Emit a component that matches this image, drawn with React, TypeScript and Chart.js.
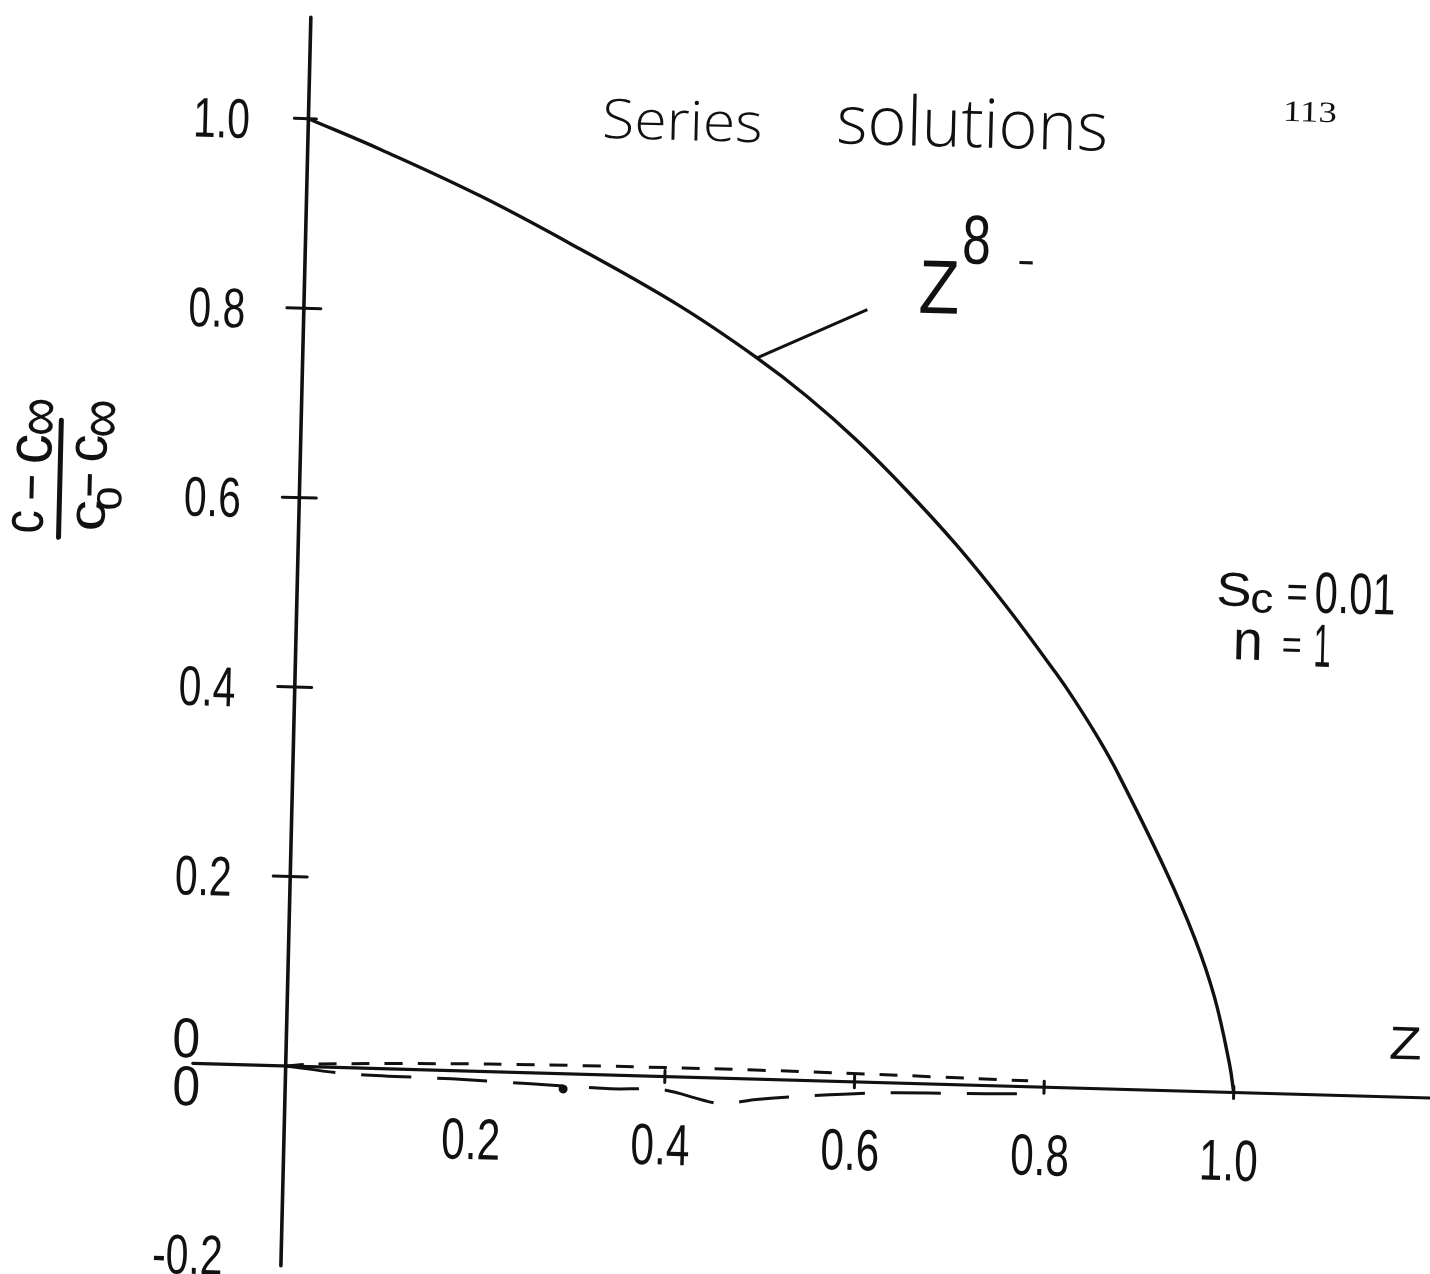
import { useEffect, useRef } from "react";
import { Chart, registerables } from "chart.js";

Chart.register(...registerables);

// Series solution: concentration ratio along z for the z^8 term
const zProfile = [0, 0.0785, 0.1845, 0.2907, 0.3969, 0.4788, 0.5324, 0.5861, 0.6396, 0.6934, 0.7473, 0.8014, 0.821, 0.8481, 0.87, 0.9217, 0.9548, 0.9773, 0.9948, 1.0];
const cProfile = [1.0, 0.969, 0.923, 0.87, 0.813, 0.761, 0.722, 0.677, 0.626, 0.57, 0.507, 0.438, 0.411, 0.37, 0.333, 0.234, 0.162, 0.1, 0.03, 0.0];

// short-dashed curve just above the z axis
const zUpper = [0, 0.031, 0.214, 0.419, 0.584, 0.783];
const cUpper = [0, 0.003, 0.008, 0.0096, 0.009, 0.0062];

// long-dashed curve just below the z axis
const zLower = [0, 0.067, 0.175, 0.259, 0.343, 0.398, 0.459, 0.494, 0.537, 0.63, 0.738, 0.776];
const cLower = [0, -0.0065, -0.0087, -0.0116, -0.0145, -0.014, -0.027, -0.0218, -0.0174, -0.0107, -0.0087, -0.0077];

// single dot on the lower curve
const zDot = [0.293];
const cDot = [-0.016];

// leader from the curve to its "z^8" tag
const zLeader = [0.479, 0.594];
const cLeader = [0.761, 0.815];

const yTickValues = [1.0, 0.8, 0.6, 0.4, 0.2, -0.2];
const yTickLabels = ["1.0", "0.8", "0.6", "0.4", "0.2", "-0.2"];
const yTickMarks = [1.0, 0.8, 0.6, 0.4, 0.2];
const xTickValues = [0.2, 0.4, 0.6, 0.8, 1.0];
const xTickLabels = ["0.2", "0.4", "0.6", "0.8", "1.0"];
const xTickMarks = [0.4, 0.6, 0.8, 1.0];

const X_MIN = -0.2966;
const X_MAX = 1.2023;
const Y_MIN = -0.2149;
const Y_MAX = 1.1206;
const Z_AXIS_FROM = -0.098;
const Z_AXIS_TO = 1.21;
const C_AXIS_FROM = -0.211;
const C_AXIS_TO = 1.107;

// the hand-ruled axes are not quite square to the sheet
const SHEAR = { a: 1, b: 0.028, c: -0.024, d: 1 };

const INK = "#111";
const LETTER = "Liberation Sans";
const TITLE = `"Open Sans", "DejaVu Sans"`;

type InkOpts = { w?: number; h?: number; sx?: number; sy?: number; align?: "center" | "right"; rot?: number };

// draws text so that its ink box is centred (or right-aligned) on (cx, cy)
function drawInk(ctx: CanvasRenderingContext2D, s: string, cx: number, cy: number, font: string, o: InkOpts = {}) {
  ctx.save();
  ctx.font = font;
  ctx.textAlign = "left";
  ctx.textBaseline = "alphabetic";
  ctx.fillStyle = INK;
  const m = ctx.measureText(s);
  const inkW = m.actualBoundingBoxLeft + m.actualBoundingBoxRight;
  const inkH = m.actualBoundingBoxAscent + m.actualBoundingBoxDescent;
  const sx = o.w ? o.w / inkW : o.sx ?? 1;
  const sy = o.h ? o.h / inkH : o.sy ?? 1;
  ctx.translate(cx, cy);
  if (o.rot) ctx.rotate(o.rot);
  ctx.scale(sx, sy);
  const midX = (m.actualBoundingBoxRight - m.actualBoundingBoxLeft) / 2;
  const midY = (m.actualBoundingBoxDescent - m.actualBoundingBoxAscent) / 2;
  const dx = o.align === "right" ? -m.actualBoundingBoxRight : -midX;
  ctx.fillText(s, dx, -midY);
  ctx.restore();
}

function line(ctx: CanvasRenderingContext2D, x1: number, y1: number, x2: number, y2: number, w: number) {
  ctx.save();
  ctx.strokeStyle = INK;
  ctx.lineWidth = w;
  ctx.lineCap = "round";
  ctx.beginPath();
  ctx.moveTo(x1, y1);
  ctx.lineTo(x2, y2);
  ctx.stroke();
  ctx.restore();
}

const sketchPlugin = {
  id: "sketch",
  beforeDraw(chart: any) {
    const { ctx, width, height } = chart;
    ctx.save();
    ctx.fillStyle = "#fff";
    ctx.fillRect(0, 0, width, height);
    const xs = chart.scales.x;
    const ys = chart.scales.y;
    const ox = xs.getPixelForValue(0);
    const oy = ys.getPixelForValue(0);
    const { a, b, c, d } = SHEAR;
    ctx.transform(a, b, c, d, ox - a * ox - c * oy, oy - b * ox - d * oy);
  },
  beforeDatasetsDraw(chart: any) {
    const ctx = chart.ctx as CanvasRenderingContext2D;
    const xs = chart.scales.x;
    const ys = chart.scales.y;
    const ox = xs.getPixelForValue(0);
    const oy = ys.getPixelForValue(0);
    // axes
    line(ctx, xs.getPixelForValue(Z_AXIS_FROM), oy, xs.getPixelForValue(Z_AXIS_TO), oy, 3.2);
    line(ctx, ox, ys.getPixelForValue(C_AXIS_FROM), ox, ys.getPixelForValue(C_AXIS_TO), 3.6);
    // tick marks
    yTickMarks.forEach((v) => {
      const y = ys.getPixelForValue(v);
      if (v === 1.0) line(ctx, ox - 14, y, ox + 8, y, 3);
      else line(ctx, ox - 17, y, ox + 17, y, 3);
    });
    xTickMarks.forEach((v) => {
      const x = xs.getPixelForValue(v);
      line(ctx, x, oy - 6, x, oy + 6, 3);
    });
  },
  afterDatasetsDraw(chart: any) {
    const ctx = chart.ctx as CanvasRenderingContext2D;
    const xs = chart.scales.x;
    const ys = chart.scales.y;
    const ox = xs.getPixelForValue(0);
    const oy = ys.getPixelForValue(0);
    const tickFont = `56px "${LETTER}"`;

    yTickValues.forEach((v, i) => {
      drawInk(ctx, yTickLabels[i], ox - 60, ys.getPixelForValue(v) + 2, tickFont, { sx: 0.73, align: "right" });
    });
    xTickValues.forEach((v, i) => {
      drawInk(ctx, xTickLabels[i], xs.getPixelForValue(v) - 3, oy + 68, `58px "${LETTER}"`, { sx: 0.73 });
    });
    // zeros either side of the z axis
    drawInk(ctx, "0", ox - 100, oy - 25, tickFont, { w: 24, h: 40 });
    drawInk(ctx, "0", ox - 99, oy + 23, tickFont, { w: 24, h: 40 });
    // z axis name
    drawInk(ctx, "Z", 1404, oy - 54, `48px "${LETTER}"`, { w: 30, h: 32 });

    // title and page number
    drawInk(ctx, "Series", 660, 110, `300 56px ${TITLE}`, { w: 155, h: 41 });
    drawInk(ctx, "solutions", 949, 103, `300 68px ${TITLE}`, { w: 267, h: 53 });
    drawInk(ctx, "113", 1287, 84, `28px "Liberation Serif"`, { w: 50, h: 19 });

    // curve tag z^8
    drawInk(ctx, "Z", 920, 269, `72px "${LETTER}"`, { w: 37, h: 53 });
    drawInk(ctx, "8", 956, 221, `68px "${LETTER}"`, { w: 25, h: 50 });
    drawInk(ctx, "-", 1006, 242, `40px "${LETTER}"`, { w: 15, h: 4 });

    // parameters
    drawInk(ctx, "S", 1222, 563, `46px "${LETTER}"`, { w: 31, h: 33 });
    drawInk(ctx, "c", 1250, 574, `44px "${LETTER}"`, { w: 21, h: 23 });
    drawInk(ctx, "=", 1285, 564, `48px "${LETTER}"`, { w: 18, h: 15 });
    drawInk(ctx, "0.01", 1343, 564, `58px "${LETTER}"`, { w: 78, h: 42 });
    drawInk(ctx, "n", 1237, 618, `56px "${LETTER}"`, { w: 24, h: 30 });
    drawInk(ctx, "=", 1281, 617, `48px "${LETTER}"`, { w: 17, h: 14 });
    drawInk(ctx, "1", 1312, 617, `58px "${LETTER}"`, { w: 14, h: 42 });

    // ordinate name: (c - c∞)/(c0 - c∞), lettered sideways
    const r = -Math.PI / 2;
    const f = `56px "${LETTER}"`;
    drawInk(ctx, "c", 15, 529, f, { w: 21, h: 32, rot: r });
    drawInk(ctx, "\u2212", 18, 495, f, { w: 23, h: 5, rot: r });
    drawInk(ctx, "c", 20, 456, f, { w: 27, h: 36, rot: r });
    drawInk(ctx, "\u221e", 26, 424, f, { w: 35, h: 25, rot: r });
    line(ctx, 46, 427, 46, 544, 5);
    drawInk(ctx, "c", 78, 521, f, { w: 28, h: 29, rot: r });
    drawInk(ctx, "o", 96, 504, f, { w: 21, h: 25, rot: r });
    drawInk(ctx, "\u2212", 76, 491, f, { w: 22, h: 5, rot: r });
    drawInk(ctx, "c", 77, 454, f, { w: 25, h: 32, rot: r });
    drawInk(ctx, "\u221e", 88, 424, f, { w: 35, h: 25, rot: r });
  },
  afterDraw(chart: any) {
    chart.ctx.restore();
  },
};

const pts = (xs: number[], ys: number[]) => xs.map((x, i) => ({ x, y: ys[i] }));

export default function App() {
  const ref = useRef<HTMLCanvasElement | null>(null);

  useEffect(() => {
    if (!ref.current) return;
    const chart = new Chart(ref.current, {
      type: "line",
      data: {
        datasets: [
          {
            data: pts(zProfile, cProfile),
            borderColor: INK,
            borderWidth: 3.4,
            pointRadius: 0,
            tension: 0.4,
            clip: false,
          },
          {
            data: pts(zUpper, cUpper),
            borderColor: INK,
            borderWidth: 3,
            borderDash: [18, 15],
            pointRadius: 0,
            tension: 0.3,
            clip: false,
          },
          {
            data: pts(zLower, cLower),
            borderColor: INK,
            borderWidth: 3,
            borderDash: [50, 26],
            pointRadius: 0,
            tension: 0.3,
            clip: false,
          },
          {
            data: pts(zDot, cDot),
            showLine: false,
            pointRadius: 4.5,
            pointBackgroundColor: INK,
            pointBorderWidth: 0,
            clip: false,
          },
          {
            data: pts(zLeader, cLeader),
            borderColor: INK,
            borderWidth: 3,
            pointRadius: 0,
            clip: false,
          },
        ],
      },
      options: {
        responsive: false,
        maintainAspectRatio: false,
        animation: false,
        devicePixelRatio: 1,
        events: [],
        layout: { padding: 0 },
        plugins: { legend: { display: false }, tooltip: { enabled: false } },
        scales: {
          x: { type: "linear", min: X_MIN, max: X_MAX, display: false },
          y: { type: "linear", min: Y_MIN, max: Y_MAX, display: false },
        },
      },
      plugins: [sketchPlugin],
    } as any);
    return () => chart.destroy();
  }, []);

  return (
    <div style={{ position: "absolute", left: 0, top: 0, width: 1430, height: 1274, overflow: "hidden", background: "#fff" }}>
      <canvas ref={ref} width={1430} height={1274} style={{ display: "block" }} />
    </div>
  );
}
